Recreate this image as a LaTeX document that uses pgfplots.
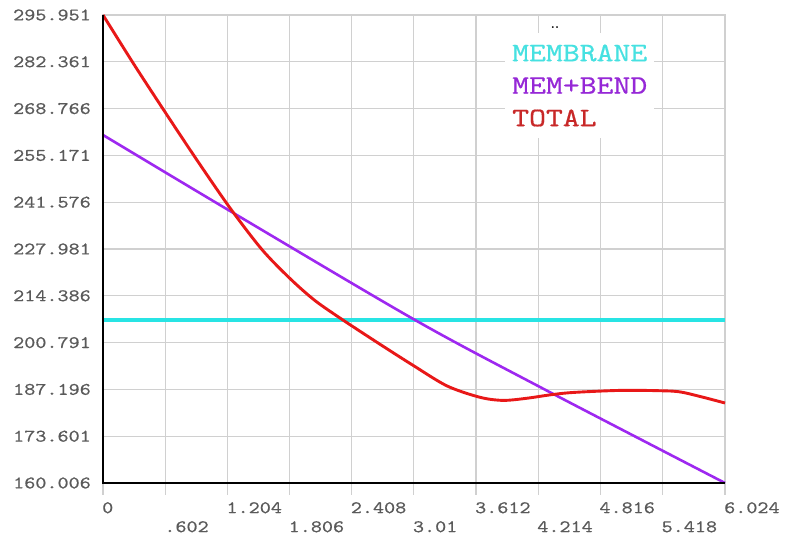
\documentclass[border=0pt]{standalone}
\usepackage{pgfplots}
\pgfplotsset{compat=1.18}
\usepackage{fontspec}

% slab-serif typewriter face, widened to the usual 0.6em advance
\newfontfamily\courfont{lmmono10-regular}[Extension=.otf, FakeStretch=1.2, FakeBold=0.6]

\definecolor{memcyan}{RGB}{40,228,228}
\definecolor{mbpurple}{RGB}{158,40,240}
\definecolor{totred}{RGB}{232,24,24}
\definecolor{gridgray}{RGB}{208,208,208}
\definecolor{labgray}{RGB}{90,90,90}
\definecolor{txtcyan}{RGB}{70,225,225}
\definecolor{txtpurple}{RGB}{150,40,215}
\definecolor{txtred}{RGB}{200,40,40}

% linearized stresses along the path
\pgfplotstableread{
x      y
0      207.35
6.024  207.35
}\membrane
\pgfplotstableread{
x      y
0      261.09
1.230  239.02
3.022  207.35
4.232  187.89
6.024  160.006
}\membend
\pgfplotstableread{
x      y
0      295.951
0.300  281.6
0.600  267.8
0.910  253.8
1.230  239.9
1.540  227.8
1.811  219.4
2.053  213.0
2.324  207.35
2.683  200.3
3.002  194.2
3.332  188.2
3.651  184.9
3.874  184.0
4.100  184.6
4.329  185.6
4.552  186.3
5.007  186.9
5.400  186.8
5.620  186.3
6.024  183.24
}\total

\begin{document}
\begin{tikzpicture}
\begin{axis}[
  scale only axis, width=622pt, height=468pt,
  xmin=0, xmax=6.024, ymin=160.006, ymax=295.951,
  axis line style={draw=gridgray, line width=1.2pt},
  grid=major,
  major grid style={draw=gridgray, line width=1.2pt},
  xtick={0,1.204,2.408,3.612,4.816,6.024},
  xticklabels={0,1.204,2.408,3.612,4.816,6.024},
  extra x ticks={0.602,1.806,3.01,4.214,5.418},
  extra x tick labels={.602,1.806,3.01,4.214,5.418},
  extra x tick style={grid=major, xticklabel style={yshift=-19pt}},
  ytick={160.006,173.601,187.196,200.791,214.386,227.981,241.576,255.171,268.766,282.361,295.951},
  yticklabels={160.006,173.601,187.196,200.791,214.386,227.981,241.576,255.171,268.766,282.361,295.951},
  xtick pos=bottom, ytick pos=left,
  tick align=outside,
  major tick length=12pt,
  xtick style={draw=gridgray, line width=1.2pt},
  ytick style={draw=none},
  tick label style={font=\courfont\fontsize{17.6}{20}\selectfont, text=labgray, inner sep=0pt},
  xticklabel style={anchor=north west, xshift=-1pt, yshift=-7pt},
  yticklabel style={anchor=east},
  legend style={at={(rel axis cs:0.6463,0.9615)}, anchor=north west,
    draw=none, fill=white, inner xsep=7pt, inner ysep=12pt,
    font=\courfont\fontsize{26.8}{30}\selectfont, row sep=16.5pt,
    nodes={inner sep=0pt, text height=16pt, text depth=0pt}},
  legend cell align=left,
  legend image code/.code={},
  /tikz/every even column/.append style={column sep=0pt},
  clip=false,
]
\addplot[memcyan, line width=3.4pt] table[x=x, y=y] {\membrane};
\addlegendentry{\textcolor{txtcyan}{MEMBRANE}}
\addplot[mbpurple, line width=2.6pt, smooth] table[x=x, y=y] {\membend};
\addlegendentry{\textcolor{txtpurple}{MEM+BEND}}
\addplot[totred, line width=2.9pt, smooth] table[x=x, y=y] {\total};
\addlegendentry{\textcolor{txtred}{TOTAL}}
\draw[black, line width=2.8pt] (rel axis cs:0,1) -- (rel axis cs:0,0) -- (rel axis cs:1,0);
\coordinate (dots) at (axis cs:4.378,292.2);
\end{axis}
\node[font=\fontsize{13}{13}\bfseries\selectfont, text=black] at (dots) {..};
\path[use as bounding box] (-103pt,-54pt) rectangle (682pt,483pt);
\end{tikzpicture}
\end{document}
